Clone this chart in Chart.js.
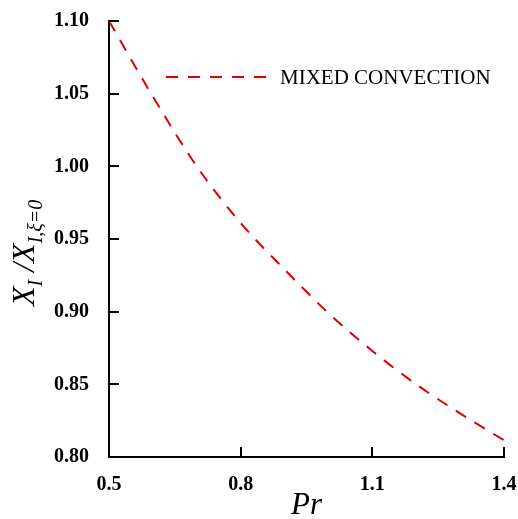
<!DOCTYPE html>
<html>
<head>
<meta charset="utf-8">
<script src="https://cdn.jsdelivr.net/npm/chart.js@4/dist/chart.umd.min.js"></script>
<style>
  html, body { margin: 0; padding: 0; background: #fff; }
  #wrap { width: 518px; height: 519px; }
</style>
</head>
<body>
<div id="wrap"><canvas id="chart" width="518" height="519"></canvas></div>
<script>
// values
const prValues = [0.5, 0.6, 0.7, 0.8, 0.9, 1.0, 1.1, 1.2, 1.3, 1.4];
const ratioValues = [1.100, 1.048, 1.000, 0.961, 0.929, 0.899, 0.873, 0.850, 0.830, 0.8115];
const xTicks = [0.5, 0.8, 1.1, 1.4];
const yTicks = [0.80, 0.85, 0.90, 0.95, 1.00, 1.05, 1.10];
const seriesName = 'MIXED CONVECTION';

const red = 'rgb(220,0,0)';
const serif = '"Liberation Serif", "Times New Roman", serif';

// inward ticks, legend and the y title with subscripts
const decorations = {
    id: 'decorations',
    afterDraw(chart) {
        const ctx = chart.ctx;
        const x = chart.scales.x, y = chart.scales.y;
        const area = chart.chartArea;
        ctx.save();
        ctx.strokeStyle = '#000';
        ctx.lineWidth = 2;
        xTicks.forEach(v => {
            const px = Math.round(x.getPixelForValue(v));
            ctx.beginPath();
            ctx.moveTo(px, area.bottom);
            ctx.lineTo(px, area.bottom - 10);
            ctx.stroke();
        });
        yTicks.forEach(v => {
            const py = Math.round(y.getPixelForValue(v));
            ctx.beginPath();
            ctx.moveTo(area.left, py);
            ctx.lineTo(area.left + 10, py);
            ctx.stroke();
        });

        // legend
        ctx.strokeStyle = red;
        ctx.setLineDash([12, 10]);
        ctx.beginPath();
        ctx.moveTo(166, 77);
        ctx.lineTo(266, 77);
        ctx.stroke();
        ctx.setLineDash([]);
        ctx.fillStyle = '#000';
        ctx.font = '21px ' + serif;
        ctx.textBaseline = 'alphabetic';
        ctx.textAlign = 'left';
        ctx.fillText(seriesName, 280, 84);

        // y title: X_I /X_{I,ξ=0}
        ctx.translate(34, 306);
        ctx.rotate(-Math.PI / 2);
        let cx = 0;
        const big = 'italic 32px ' + serif;
        const small = 'italic 20px ' + serif;
        const part = (t, f, dy) => {
            ctx.font = f;
            ctx.fillText(t, cx, dy);
            cx += ctx.measureText(t).width;
        };
        part('X', big, 0);
        part('I', small, 8);
        part(' /', big, 0);
        part('X', big, 0);
        part('I,ξ=0', small, 8);
        ctx.restore();
    }
};

new Chart(document.getElementById('chart'), {
    type: 'line',
    data: {
        datasets: [{
            label: seriesName,
            data: prValues.map((v, i) => ({ x: v, y: ratioValues[i] })),
            borderColor: red,
            borderWidth: 2,
            borderDash: [12, 10],
            pointRadius: 0,
            cubicInterpolationMode: 'monotone',
            fill: false
        }]
    },
    options: {
        responsive: false,
        animation: false,
        layout: { padding: { left: 0, top: 21, right: 14, bottom: 0 } },
        plugins: { legend: { display: false }, tooltip: { enabled: false } },
        scales: {
            x: {
                type: 'linear',
                min: 0.5,
                max: 1.4,
                afterBuildTicks: s => { s.ticks = xTicks.map(v => ({ value: v })); },
                afterFit: s => { s.height = 62; s.paddingLeft = 0; s.paddingRight = 0; },
                grid: { display: false },
                border: { display: true, color: '#000', width: 2 },
                ticks: {
                    color: '#000',
                    padding: 8,
                    maxRotation: 0,
                    font: { family: serif, size: 20, weight: 'bold' },
                    callback: v => v.toFixed(1)
                },
                title: {
                    display: true,
                    text: 'Pr',
                    color: '#000',
                    padding: { top: 0, bottom: -5 },
                    font: { family: serif, size: 31, style: 'italic' }
                }
            },
            y: {
                type: 'linear',
                min: 0.80,
                max: 1.10,
                afterBuildTicks: s => { s.ticks = yTicks.map(v => ({ value: v })); },
                afterFit: s => { s.width = 109; s.paddingTop = 0; s.paddingBottom = 0; },
                grid: { display: false },
                border: { display: true, color: '#000', width: 2 },
                ticks: {
                    color: '#000',
                    padding: 12,
                    font: { family: serif, size: 20, weight: 'bold' },
                    callback: v => v.toFixed(2)
                }
            }
        }
    },
    plugins: [decorations]
});
</script>
</body>
</html>
